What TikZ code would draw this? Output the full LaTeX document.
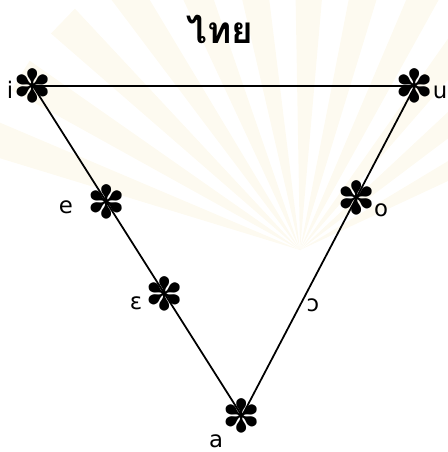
\documentclass[tikz,border=0pt]{standalone}
\usepackage{fontspec}
\setmainfont{DejaVu Sans}
\newfontfamily\thaifont[Script=Thai]{Loma}
\newfontfamily\starfont{DejaVu Sans}
\usetikzlibrary{calc}
\definecolor{scanwash}{RGB}{253,250,240}

\begin{document}
\begin{tikzpicture}[x=0.02cm, y=-0.02cm,
    vowelstar/.style={inner sep=0pt, font=\starfont\fontsize{26}{26}\selectfont},
    vowellabel/.style={inner sep=0pt, font=\fontsize{13}{13}\selectfont}]
    \useasboundingbox (0,0) rectangle (448,452);

    % faint watermark in the scan
    \coordinate (wm) at (300,250);
    \foreach \ang in {-160,-148,...,-20}
        \fill[scanwash] (wm) -- ($(wm)+(\ang-3:330)$) -- ($(wm)+(\ang+3:330)$) -- cycle;

    \node[font=\thaifont\bfseries\fontsize{21}{21}\selectfont] (title) at (220,29) {ไทย};

    % corners of the triangle
    \node[vowelstar] (i) at (33,86) {✽};
    \node[vowelstar] (u) at (415,86) {✽};
    \node[vowelstar] (a) at (242,416) {✽};

    \draw[line width=1pt] (i.center) -- (u.center) -- (a.center) -- cycle;

    % points on the sides
    \node[vowelstar] (e) at ($(i)!0.35!(a)$) {✽};
    \node[vowelstar] (eps) at ($(i)!0.63!(a)$) {✽};
    \node[vowelstar] (o) at ($(u)!0.34!(a)$) {✽};

    \node[vowellabel] (ilab) at (10,90) {i};
    \node[vowellabel] (ulab) at (440,92) {u};
    \node[vowellabel] (elab) at (66,207) {e};
    \node[vowellabel] (olab) at (381,210) {o};
    \node[vowellabel] (epslab) at (136,303) {ɛ};
    \node[vowellabel] (openolab) at (313,305) {ɔ};
    \node[vowellabel] (alab) at (216,441) {a};
\end{tikzpicture}
\end{document}
